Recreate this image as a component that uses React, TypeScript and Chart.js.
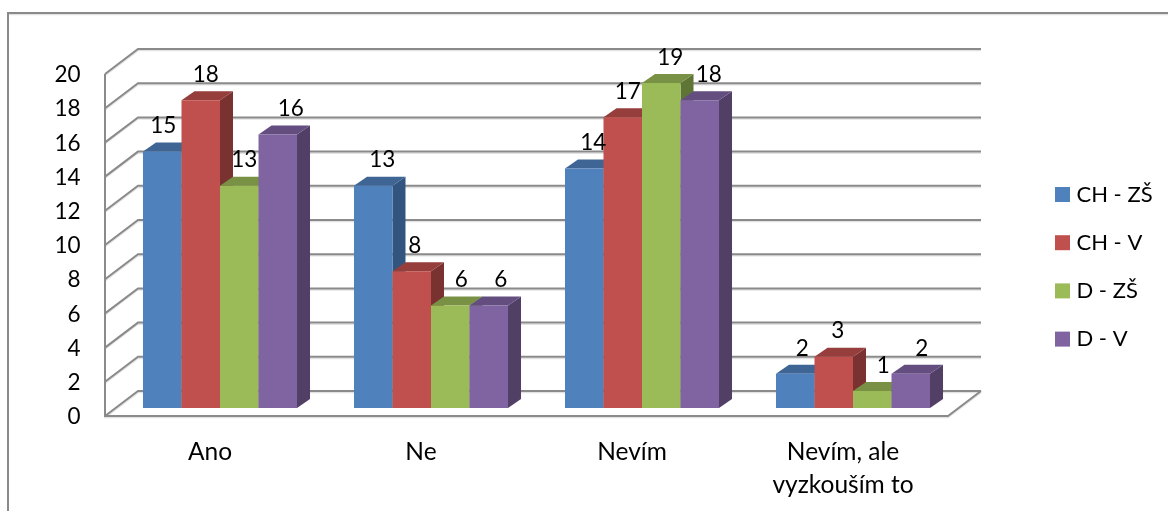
import React, { useEffect, useRef } from "react";
import { Chart, registerables } from "chart.js";

Chart.register(...registerables);

const categories = ["Ano", "Ne", "Nevím", ["Nevím, ale", "vyzkouším to"]];
const seriesNames = ["CH - ZŠ", "CH - V", "D - ZŠ", "D - V"];
const chZs = [15, 13, 14, 2];
const chV = [18, 8, 17, 3];
const dZs = [13, 6, 19, 1];
const dV = [16, 6, 18, 2];

const frontColors = ["#4F81BD", "#C0504D", "#9BBB59", "#8064A2"];
const topColors = ["#3E6594", "#953E3C", "#789145", "#644E80"];
const sideColors = ["#32557F", "#7A3230", "#5F7536", "#523F66"];

// Horizontal nudge of each value label, per series then per category.
const labelNudge = [
  [1, 9, 9, 7],
  [5, 3, 5, 4],
  [5, 11, 9, 11],
  [13, 12, 9, 11],
];

const FONT = "Lato, Carlito, sans-serif";
const DIGIT_SIZE = 22.5;
const AXIS_SIZE = 24.5;
const LEGEND_SIZE = 22;
const GRID = "#8A8A8A";
const GRID_SOFT = "#E2E2E2";
const BAR_DX = 13;
const BAR_DY = -9;

function strokeLine(ctx: CanvasRenderingContext2D, pts: number[][]) {
  ctx.beginPath();
  pts.forEach(([x, y], i) => (i ? ctx.lineTo(x, y) : ctx.moveTo(x, y)));
  ctx.stroke();
}

function fillPoly(ctx: CanvasRenderingContext2D, pts: number[][], color: string) {
  ctx.fillStyle = color;
  ctx.beginPath();
  pts.forEach(([x, y], i) => (i ? ctx.lineTo(x, y) : ctx.moveTo(x, y)));
  ctx.closePath();
  ctx.fill();
}

// Outer frame, left wall, back wall and floor of the 3D box.
const wallsPlugin = {
  id: "walls",
  beforeDatasetsDraw(chart: any) {
    const { ctx, chartArea, scales } = chart;
    const left = chartArea.left - 9.5;
    const right = chartArea.right - 10.5;
    const depthX = 33;
    const depthY = -25;
    const front = 8;

    const drawAll = (dy: number, color: string, width: number) => {
      ctx.strokeStyle = color;
      ctx.lineWidth = width;
      ctx.lineJoin = "miter";
      strokeLine(ctx, [
        [8, chart.height],
        [8, 13 + dy],
        [chart.width, 13 + dy],
      ]);
      scales.y.ticks.forEach((t: any) => {
        const y = scales.y.getPixelForValue(t.value) + front + dy;
        strokeLine(ctx, [
          [left, y],
          [left + depthX, y + depthY],
          [right + depthX, y + depthY],
        ]);
      });
      const y0 = scales.y.getPixelForValue(0) + front + dy;
      const yMax = scales.y.getPixelForValue(scales.y.max) + front;
      strokeLine(ctx, [
        [left, yMax],
        [left, y0],
        [right, y0],
        [right + depthX, y0 + depthY],
      ]);
    };

    ctx.save();
    drawAll(1.6, GRID_SOFT, 1.5);
    drawAll(0, GRID, 2);
    ctx.restore();
  },
};

// Draws each category left to right so that a bar's front covers its neighbour's side.
const bars3dPlugin = {
  id: "bars3d",
  beforeDatasetDraw() {
    return false;
  },
  afterDatasetsDraw(chart: any) {
    const { ctx } = chart;
    const metas = chart.data.datasets.map((_: any, i: number) => chart.getDatasetMeta(i));
    categories.forEach((_, c) => {
      metas.forEach((meta: any, s: number) => {
        const bar = meta.data[c];
        const l = bar.x - bar.width / 2;
        const r = bar.x + bar.width / 2;
        const t = bar.y;
        const b = bar.base;
        fillPoly(
          ctx,
          [
            [r, t],
            [r + BAR_DX, t + BAR_DY],
            [r + BAR_DX, b + BAR_DY],
            [r, b],
          ],
          sideColors[s]
        );
        fillPoly(
          ctx,
          [
            [l, t],
            [l + BAR_DX, t + BAR_DY],
            [r + BAR_DX, t + BAR_DY],
            [r, t],
          ],
          topColors[s]
        );
        bar.draw(ctx);
      });
    });

    ctx.save();
    ctx.fillStyle = "#000";
    ctx.font = `${DIGIT_SIZE}px ${FONT}`;
    ctx.textAlign = "center";
    ctx.textBaseline = "middle";
    metas.forEach((meta: any, s: number) => {
      meta.data.forEach((bar: any, c: number) => {
        const value = chart.data.datasets[s].data[c];
        ctx.fillText(String(value), bar.x + labelNudge[s][c], bar.y - 25.5);
      });
    });
    ctx.restore();
  },
};

const legendPlugin = {
  id: "sideLegend",
  afterDraw(chart: any) {
    const { ctx } = chart;
    ctx.save();
    ctx.font = `${LEGEND_SIZE}px ${FONT}`;
    ctx.textAlign = "left";
    ctx.textBaseline = "middle";
    chart.data.datasets.forEach((ds: any, i: number) => {
      const cy = 194.5 + i * 48.2;
      ctx.fillStyle = ds.backgroundColor;
      ctx.fillRect(1055, cy - 7.5, 15, 15);
      ctx.fillStyle = "#000";
      ctx.fillText(ds.label, 1076.5, cy);
    });
    ctx.restore();
  },
};

export default function App() {
  const canvasRef = useRef<HTMLCanvasElement>(null);

  useEffect(() => {
    const chart = new Chart(canvasRef.current!, {
      type: "bar",
      data: {
        labels: categories as any,
        datasets: [chZs, chV, dZs, dV].map((data, i) => ({
          label: seriesNames[i],
          data,
          backgroundColor: frontColors[i],
          borderWidth: 0,
          categoryPercentage: 0.73,
          barPercentage: 1,
        })),
      },
      plugins: [wallsPlugin, bars3dPlugin, legendPlugin],
      options: {
        responsive: false,
        animation: false,
        layout: { padding: { left: 0, top: 66, right: 209.5, bottom: 0 } },
        plugins: { legend: { display: false }, tooltip: { enabled: false } },
        scales: {
          x: {
            grid: { display: false },
            border: { display: false },
            ticks: {
              color: "#000",
              font: { family: FONT, size: AXIS_SIZE, lineHeight: 33 / AXIS_SIZE },
              labelOffset: -10,
              padding: 20,
              maxRotation: 0,
              autoSkip: false,
            },
            afterFit(scale: any) {
              scale.height = 103;
            },
          },
          y: {
            min: 0,
            max: 20,
            grid: { display: false },
            border: { display: false },
            ticks: {
              stepSize: 2,
              color: "#000",
              font: { family: FONT, size: DIGIT_SIZE },
              labelOffset: 9,
              padding: 26,
            },
            afterFit(scale: any) {
              scale.width = 114.5;
            },
          },
        },
      },
    } as any);
    return () => chart.destroy();
  }, []);

  return (
    <div style={{ position: "absolute", left: 0, top: 0, width: 1168, height: 511, background: "#fff" }}>
      <canvas ref={canvasRef} width={1168} height={511} style={{ display: "block" }} />
    </div>
  );
}
